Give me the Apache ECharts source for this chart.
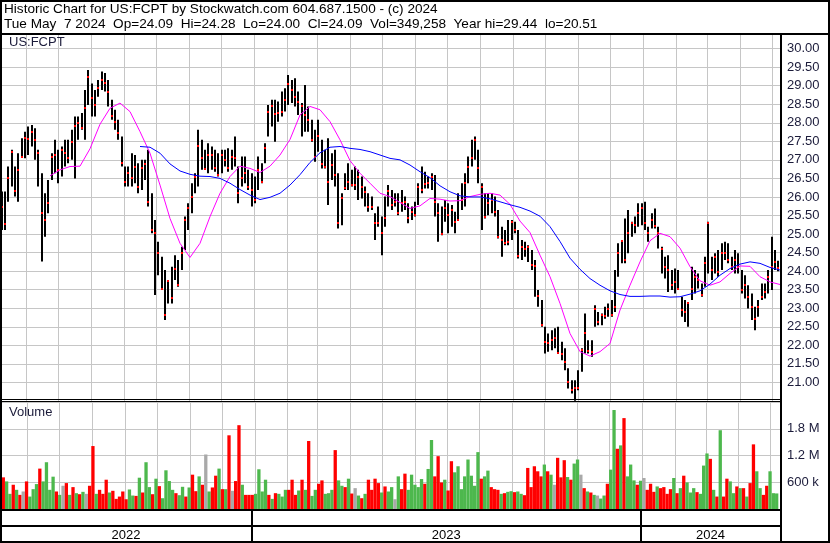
<!DOCTYPE html>
<html><head><meta charset="utf-8">
<script src="https://cdn.jsdelivr.net/npm/echarts@6/dist/echarts.min.js"></script>
<style>html,body{margin:0;padding:0;background:#fff}#c{width:830px;height:543px}</style>
</head><body><div id="c"></div>
<script>
const headerLine1 = 'Historic Chart for US:FCPT by Stockwatch.com 604.687.1500 - (c) 2024';
const headerLine2 = 'Tue May  7 2024  Op=24.09  Hi=24.28  Lo=24.00  Cl=24.09  Vol=349,258  Year hi=29.44  lo=20.51';
const tickerLabel = 'US:FCPT';
const volumeLabel = 'Volume';
const rangeStart = '2022-05-07T17:00:00Z';
const rangeEnd = '2024-05-08T15:00:00Z';
const priceMin = 20.5, priceMax = 30.5, priceStep = 0.5;
const volMaxK = 2400, volStepK = 600;
const yearLabels = ['2022', '2023', '2024'];
const yearBreaks = ['2022-12-30T00:00:00Z', '2023-12-30T00:00:00Z'];

// price bars (~2 trading days per bar)
const highs = [
26.15,26.15,26.82,27.27,26.82,27.18,27.58,27.76,27.90,27.94,27.85,27.27,26.64,26.10,26.46,27.18,27.54,27.27,27.36,27.54,27.54,27.81,28.17,28.17,28.26,28.88,29.42,29.06,28.88,29.15,29.38,29.34,29.15,28.62,28.35,28.08,27.63,26.82,26.82,
27.18,27.13,26.91,27.00,27.00,27.27,26.10,25.38,24.79,24.39,24.03,23.76,24.12,24.43,24.30,24.66,25.47,25.83,26.37,26.64,27.81,27.54,27.27,27.45,27.36,27.27,27.18,27.27,27.27,27.31,27.27,27.63,26.82,27.09,27.09,26.73,26.64,26.55,27.09,
26.91,27.45,28.48,28.62,28.62,28.57,28.84,28.93,29.29,29.15,29.20,28.84,28.53,29.02,28.44,28.08,27.81,28.08,27.54,27.27,27.58,27.18,27.27,26.64,26.10,26.64,26.91,26.73,26.82,26.73,26.55,26.28,26.10,26.01,25.56,25.74,25.47,26.01,26.32,
26.19,26.10,26.10,26.19,26.01,25.83,25.74,25.87,26.37,26.82,26.68,26.55,26.64,26.59,25.83,25.74,25.92,25.83,25.78,25.60,26.10,26.37,26.64,27.09,27.54,27.63,27.27,26.37,26.10,26.10,26.10,26.01,25.65,25.20,25.11,25.38,25.38,25.33,25.11,
24.84,24.79,24.70,24.57,24.30,23.49,23.22,22.50,22.32,22.41,22.46,22.50,22.10,21.92,21.38,21.06,21.06,21.33,21.92,22.86,22.14,22.14,23.08,22.90,22.86,23.04,23.13,23.22,24.03,24.75,24.84,25.42,25.65,25.33,25.47,25.83,25.83,25.87,25.20,
25.56,25.69,25.20,24.66,24.39,24.43,24.03,24.07,24.03,23.31,23.22,23.17,24.12,24.03,23.94,23.67,24.39,25.33,24.39,24.48,24.57,24.75,24.79,24.75,24.39,24.57,24.48,24.03,23.89,23.62,23.40,23.04,23.22,23.67,23.67,24.03,24.93,24.57,24.28];
const lows = [
25.11,25.11,25.87,26.28,26.01,25.87,27.09,27.04,27.13,27.36,27.00,26.28,24.26,24.93,25.56,26.46,26.64,26.37,26.55,26.82,26.91,27.00,26.50,27.54,27.81,27.54,28.48,28.17,28.17,28.70,28.88,28.84,28.44,28.08,27.81,27.54,26.82,26.28,26.28,
26.28,26.37,26.10,26.19,26.46,25.74,25.02,23.36,23.89,23.53,22.68,23.13,23.13,23.76,23.58,24.03,24.57,25.11,25.56,26.10,26.28,26.73,26.73,26.64,26.73,26.68,26.55,26.64,26.82,26.68,26.73,26.82,25.83,26.28,26.37,26.19,25.74,25.83,26.19,
26.37,26.91,27.63,27.90,27.49,28.03,28.17,28.30,28.48,28.53,28.44,28.21,27.63,27.76,27.76,27.49,26.95,27.22,26.77,26.77,25.78,26.46,26.28,25.15,25.24,26.19,26.19,26.28,26.19,25.92,25.96,25.74,25.60,25.65,24.84,25.20,24.43,25.20,25.74,
25.65,25.74,25.51,25.60,25.65,25.29,25.38,25.47,25.78,26.10,26.23,26.23,26.19,25.47,24.79,24.97,25.33,25.02,25.20,25.02,25.38,25.65,25.74,26.37,26.82,27.00,26.37,25.11,25.42,25.51,25.56,25.47,24.88,24.39,24.70,24.70,24.84,25.02,24.34,
24.30,24.39,24.25,24.03,23.31,23.04,22.50,21.78,21.83,21.87,21.92,21.78,21.60,21.33,20.84,20.70,20.51,20.79,21.29,21.78,21.78,21.69,22.50,22.54,22.54,22.72,22.77,22.77,22.90,23.85,24.21,24.21,24.48,24.93,25.02,25.20,25.24,25.11,24.79,
25.15,25.15,24.61,23.94,23.80,23.44,23.49,23.40,23.49,22.77,22.63,22.50,23.22,23.40,23.53,23.31,23.58,23.94,23.76,23.94,23.85,24.03,24.30,24.21,24.03,23.94,23.94,23.40,23.26,22.99,22.68,22.41,22.77,23.22,23.26,23.40,23.49,24.03,24.00];
const closes = [
25.74,25.27,26.52,27.22,26.17,26.73,27.09,27.58,27.56,27.76,27.54,27.18,25.56,25.38,25.83,27.09,27.13,26.73,27.27,27.18,27.04,27.49,27.90,27.99,27.85,28.39,29.24,28.66,28.48,28.93,29.15,29.06,28.84,28.17,28.03,27.72,26.91,26.39,26.64,
26.50,26.82,26.28,26.77,26.89,25.87,25.11,25.04,24.50,23.53,22.82,23.74,23.28,24.07,23.64,24.48,25.38,25.69,26.01,26.55,27.36,27.04,26.75,27.13,27.13,26.77,26.59,27.13,27.00,26.77,27.09,27.04,26.10,26.50,26.64,26.28,26.19,25.92,26.73,
26.41,27.31,28.30,28.44,28.24,28.26,28.30,28.60,29.05,28.88,28.70,28.57,28.44,28.21,28.08,27.54,27.09,27.65,26.89,26.82,26.41,26.86,26.59,25.29,25.96,26.23,26.41,26.32,26.32,26.55,26.28,26.14,25.74,25.74,25.31,25.29,25.02,25.42,26.17,
25.78,25.87,25.56,25.83,25.87,25.42,25.60,25.51,26.28,26.19,26.35,26.37,26.55,25.87,25.56,24.99,25.69,25.51,25.65,25.33,25.38,25.92,26.37,26.82,27.04,27.54,26.77,26.28,25.47,25.83,25.92,25.60,24.93,24.84,24.75,24.79,25.33,25.11,24.41,
24.66,24.61,24.64,24.16,24.14,23.33,22.54,22.10,22.07,22.14,22.19,21.80,21.78,21.56,21.02,20.79,20.84,20.84,21.87,22.34,21.85,21.83,22.97,22.63,22.81,22.79,22.99,22.81,23.04,24.48,24.81,24.30,25.02,25.31,25.24,25.56,25.69,25.31,25.02,
25.38,25.22,25.02,24.61,24.12,24.03,23.62,23.71,23.51,22.95,22.90,23.13,23.53,23.85,23.76,23.35,24.21,25.31,24.03,24.39,23.98,24.48,24.48,24.30,24.12,24.30,24.12,23.49,23.62,23.31,23.04,22.72,23.04,23.31,23.44,23.85,24.12,24.25,24.09];

// volume in thousands of shares, and day direction (u = up, d = down, n = unchanged)
const volumeK = [
710,619,340,544,430,317,393,619,279,445,559,906,619,1049,430,725,393,317,521,581,317,491,355,332,385,340,521,1412,340,430,
340,657,370,408,227,279,393,219,438,302,294,702,370,1049,491,332,680,513,242,868,627,430,355,310,498,279,483,770,400,732,
544,1223,393,483,747,906,445,445,1653,408,627,1880,544,317,317,317,340,891,393,657,317,227,355,340,279,430,430,657,317,415,
657,430,1525,294,430,566,642,340,355,430,1321,642,521,491,680,347,468,302,242,340,657,430,680,581,370,506,393,491,219,732,
445,793,430,770,544,491,
672,566,898,1548,732,1185,596,657,415,1072,823,959,445,732,1110,747,521,1276,680,732,861,491,445,430,340,355,385,400,378,393,
340,310,921,491,959,846,732,997,846,770,544,1148,710,1095,717,657,1019,1110,770,468,393,370,317,302,234,302,566,883,2220,1351,
1427,2039,732,997,642,544,634,695,430,566,385,506,468,491,340,445,695,355,468,747,596,370,468,378,340,974,1246,1125,430,279,
1767,279,680,619,355,506,468,468,279,581,1450,846,468,317,521,846,355,349];
const volumeDir = (
'duududnduu'+'uduuuudund'+'ududunddud'+'dduddddduu'+'duduududuu'+'uuduududdu'+'dnuddududn'+'dduddduuuu'+'duduuudddu'+'duduudduuu'+
'duududnudu'+'dddduduunu'+'dduuuu'+
'uduudddudd'+'uuuuuuuudu'+'uddduduudu'+'uddddddudu'+'nddduduund'+'udunuuduud'+'uduuudundd'+'duddddudud'+'uuuduuudud'+'udduududud'+
'duudduuu').split('');

// moving averages read every ~10 px (null = not drawn)
const maFast = [null,null,null,null,null,26.57,26.73,26.82,26.83,27.30,27.96,28.39,28.53,28.30,27.76,27.18,26.32,25.42,24.75,24.37,
24.75,25.47,26.10,26.55,26.83,26.77,26.66,26.83,27.13,27.55,28.21,28.44,28.35,28.03,27.54,26.98,26.64,26.37,26.10,26.01,
25.85,25.69,25.76,25.96,25.94,25.89,25.90,26.01,26.07,26.10,26.05,25.80,25.35,25.04,24.43,23.85,23.13,22.32,21.83,21.71,
21.83,22.05,22.95,23.62,24.25,24.82,25.02,24.93,24.62,24.12,23.74,23.62,23.71,23.94,24.14,24.13,23.85,23.71,23.64];
const maSlow = [null,null,null,null,null,null,null,null,null,null,null,null,null,null,27.36,27.34,27.18,26.89,26.70,26.61,
26.56,26.55,26.50,26.37,26.20,26.05,25.93,25.99,26.10,26.32,26.60,26.93,27.19,27.34,27.36,27.31,27.28,27.22,27.13,27.04,
27.00,26.86,26.68,26.52,26.30,26.14,26.03,26.00,26.00,25.95,25.87,25.79,25.72,25.62,25.48,25.20,24.80,24.35,24.05,23.80,
23.62,23.47,23.37,23.32,23.32,23.33,23.33,23.30,23.31,23.38,23.47,23.65,23.89,24.07,24.19,24.25,24.21,24.10,24.03];

const T0 = Date.parse(rangeStart), T1 = Date.parse(rangeEnd);
const binTime = j => T0 + (j + 0.5) / highs.length * (T1 - T0);
const maTime = m => T0 + m / (maFast.length - 1) * (T1 - T0);

const ohlcData = highs.map((h, j) => [binTime(j), h, lows[j], closes[j]]);
const volData = volumeK.map((v, j) => [binTime(j), v]);
const toLine = arr => arr.map((v, m) => v == null ? null : [maTime(m), v]).filter(Boolean);
const monthStarts = [];
for (let y = 2022, mo = 5; Date.UTC(y, mo, 1) < T1; mo++) { if (mo > 11) { mo = 0; y++; } monthStarts.push([Date.UTC(y, mo, 1)]); }
const b = yearBreaks.map(Date.parse);
const yearBands = yearLabels.map((lab, i) => [i === 0 ? T0 : b[i - 1], i === yearLabels.length - 1 ? T1 : b[i], i]);

const dirColor = { u: '#4db84d', d: '#ff0000', n: '#a9a9a9' };
const GRID = '#c6c6c6', INK = '#1b1b3a', FONT = '"Liberation Sans", Arial, sans-serif';

function gridLines(params, api) {
  const cs = params.coordSys;
  const x = Math.round(api.coord([api.value(0), 0])[0]) + 0.5;
  return { type: 'line', shape: { x1: x, y1: cs.y, x2: x, y2: cs.y + cs.height }, style: { stroke: GRID, lineWidth: 1 } };
}

const chart = echarts.init(document.getElementById('c'), null, { renderer: 'canvas' });
chart.setOption({
  animation: false,
  backgroundColor: '#fff',
  textStyle: { fontFamily: FONT },
  grid: [
    { left: 0, top: 30, width: 780, height: 371 },
    { left: 0, top: 402, width: 780, height: 107 },
    { left: 0, top: 510, width: 780, height: 32 }
  ],
  xAxis: [0, 1, 2].map(i => ({
    type: 'time', gridIndex: i, min: T0, max: T1,
    axisLine: { show: false }, axisTick: { show: false }, axisLabel: { show: false }, splitLine: { show: false }
  })),
  yAxis: [
    { type: 'value', gridIndex: 0, position: 'right', min: priceMin, max: priceMax, interval: priceStep,
      axisLine: { show: false }, axisTick: { show: false },
      axisLabel: { margin: 7, color: INK, fontSize: 13, fontFamily: FONT, showMinLabel: false, showMaxLabel: false, formatter: v => v.toFixed(2) },
      splitLine: { lineStyle: { color: GRID, width: 1 } } },
    { type: 'value', gridIndex: 1, position: 'right', min: 0, max: volMaxK, interval: volStepK,
      axisLine: { show: false }, axisTick: { show: false },
      axisLabel: { margin: 7, color: INK, fontSize: 13, fontFamily: FONT, showMinLabel: false, showMaxLabel: false,
        formatter: v => v >= 1000 ? (v / 1000).toFixed(1) + ' M' : v + ' k' },
      splitLine: { lineStyle: { color: GRID, width: 1 } } },
    { type: 'value', gridIndex: 2, min: 0, max: 1, show: false }
  ],
  series: [
    { type: 'custom', xAxisIndex: 0, yAxisIndex: 0, z: 1, silent: true, data: monthStarts, renderItem: gridLines },
    { type: 'custom', xAxisIndex: 1, yAxisIndex: 1, z: 1, silent: true, data: monthStarts, renderItem: gridLines },
    { type: 'custom', name: 'price', xAxisIndex: 0, yAxisIndex: 0, z: 3, clip: true, data: ohlcData,
      encode: { x: 0, y: [1, 2, 3] },
      renderItem: (params, api) => {
        const t = api.value(0);
        const pH = api.coord([t, api.value(1)]), pL = api.coord([t, api.value(2)]), pC = api.coord([t, api.value(3)]);
        const x = Math.round(pH[0]);
        return { type: 'group', children: [
          { type: 'rect', shape: { x: x - 1, y: pH[1], width: 2, height: Math.max(1, pL[1] - pH[1]) }, style: { fill: '#000' } },
          { type: 'rect', shape: { x: x - 1, y: Math.round(pC[1]) - 1, width: 2, height: 2 }, style: { fill: '#ff0000' } }
        ] };
      } },
    { type: 'line', name: 'MA fast', xAxisIndex: 0, yAxisIndex: 0, z: 4, data: toLine(maFast), showSymbol: false,
      lineStyle: { color: '#ff00ff', width: 1 }, smooth: false },
    { type: 'line', name: 'MA slow', xAxisIndex: 0, yAxisIndex: 0, z: 4, data: toLine(maSlow), showSymbol: false,
      lineStyle: { color: '#0000ff', width: 1 }, smooth: false },
    { type: 'bar', name: 'Volume', xAxisIndex: 1, yAxisIndex: 1, z: 3, barWidth: 3.3, data: volData,
      itemStyle: { color: p => dirColor[volumeDir[p.dataIndex]] } },
    { type: 'custom', xAxisIndex: 2, yAxisIndex: 2, z: 3, silent: true, data: yearBands,
      renderItem: (params, api) => {
        const cs = params.coordSys;
        const x0 = Math.max(cs.x, api.coord([api.value(0), 0])[0]);
        const x1 = Math.min(cs.x + cs.width, api.coord([api.value(1), 0])[0]);
        const i = api.value(2);
        const kids = [{ type: 'text', style: { text: yearLabels[i], x: (x0 + x1) / 2, y: 535, align: 'center', verticalAlign: 'middle',
          fontSize: 13, fontFamily: FONT, fill: '#000' } }];
        if (i < yearLabels.length - 1) kids.push({ type: 'rect', shape: { x: Math.round(x1) - 1, y: 510, width: 2, height: 32 }, style: { fill: '#000' } });
        return { type: 'group', children: kids };
      } }
  ],
  graphic: [
    { type: 'rect', z: 50, shape: { x: 0, y: 0, width: 830, height: 34 }, style: { fill: '#fff' } },
    { type: 'text', z: 51, left: 4, top: 2, style: { text: headerLine1, fontSize: 13.6, fontFamily: FONT, fill: '#000' } },
    { type: 'text', z: 51, left: 4, top: 17, style: { text: headerLine2, fontSize: 13.6, fontFamily: FONT, fill: '#000' } },
    { type: 'rect', z: 52, shape: { x: 0, y: 33, width: 830, height: 2 }, style: { fill: '#000' } },
    { type: 'text', z: 51, left: 9, top: 36, style: { text: tickerLabel, fontSize: 13, fontFamily: FONT, fill: INK } },
    { type: 'rect', z: 52, shape: { x: 0, y: 399, width: 780, height: 1 }, style: { fill: '#000' } },
    { type: 'rect', z: 52, shape: { x: 0, y: 401, width: 780, height: 1 }, style: { fill: '#000' } },
    { type: 'text', z: 51, left: 9, top: 406, style: { text: volumeLabel, fontSize: 13, fontFamily: FONT, fill: INK } },
    { type: 'rect', z: 52, shape: { x: 0, y: 509, width: 780, height: 2 }, style: { fill: '#000' } },
    { type: 'rect', z: 52, shape: { x: 0, y: 525, width: 780, height: 2 }, style: { fill: '#000' } },
    { type: 'rect', z: 52, shape: { x: 780, y: 33, width: 2, height: 510 }, style: { fill: '#000' } },
    { type: 'rect', z: 53, shape: { x: 1, y: 1, width: 828, height: 541 }, style: { fill: 'none', stroke: '#000', lineWidth: 2 } }
  ]
});
</script></body></html>
